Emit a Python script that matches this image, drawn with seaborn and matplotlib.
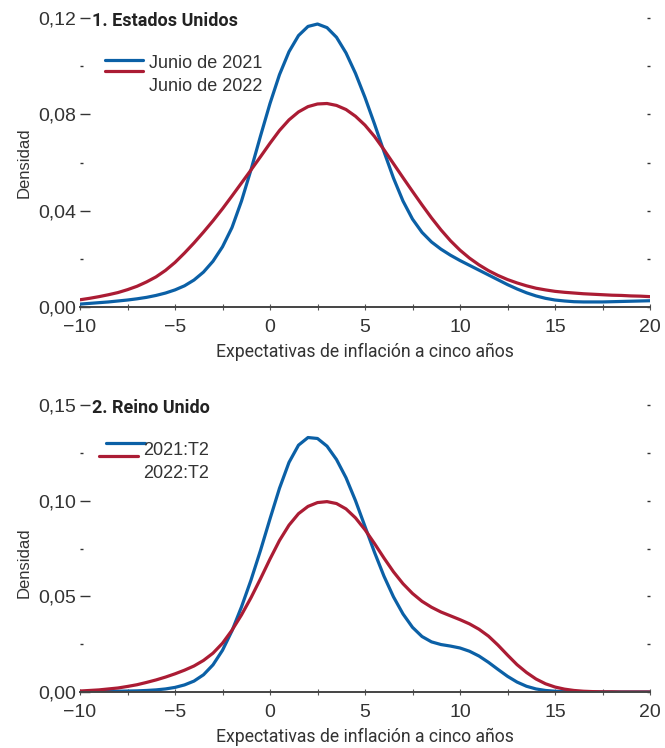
import matplotlib
matplotlib.use("Agg")
import matplotlib.pyplot as plt
import pandas as pd
import seaborn as sns
from matplotlib.ticker import MultipleLocator, FuncFormatter
from matplotlib.legend_handler import HandlerLine2D

sns.set_theme(style="white")
plt.rcParams['font.family'] = ['Liberation Sans', 'DejaVu Sans']
plt.rcParams['axes.unicode_minus'] = True

HUMANIST = ['Roboto', 'Liberation Sans', 'DejaVu Sans']

# Five-year inflation expectations (percent)
x_grid = [-10, -9.5, -9, -8.5, -8, -7.5, -7, -6.5, -6, -5.5, -5, -4.5, -4, -3.5,
          -3, -2.5, -2, -1.5, -1, -0.5, 0, 0.5, 1, 1.5, 2, 2.5, 3, 3.5, 4, 4.5,
          5, 5.5, 6, 6.5, 7, 7.5, 8, 8.5, 9, 9.5, 10, 10.5, 11, 11.5, 12, 12.5,
          13, 13.5, 14, 14.5, 15, 15.5, 16, 16.5, 17, 17.5, 18, 18.5, 19, 19.5, 20]

# 1. Estados Unidos: estimated densities
us_jun2021 = [.0012, .0015, .0018, .0021, .0025, .0029, .0034, .0040, .0048, .0058,
              .0071, .0088, .0112, .0145, .0190, .0250, .0330, .0440, .0570, .0710,
              .0845, .0965, .1060, .1127, .1165, .1175, .1160, .1120, .1055, .0970,
              .0870, .0760, .0645, .0535, .0440, .0365, .0310, .0270, .0240, .0215,
              .0193, .0173, .0153, .0133, .0113, .0093, .0075, .0059, .0046, .0036,
              .0029, .0025, .0022, .0021, .0021, .0021, .0022, .0023, .0024, .0025,
              .0026]
us_jun2022 = [.0030, .0036, .0043, .0051, .0060, .0072, .0086, .0104, .0125, .0152,
              .0185, .0224, .0266, .0311, .0358, .0408, .0461, .0515, .0569, .0624,
              .0680, .0733, .0777, .0810, .0832, .0843, .0845, .0837, .0820, .0792,
              .0755, .0708, .0653, .0595, .0537, .0480, .0424, .0370, .0320, .0275,
              .0236, .0203, .0175, .0151, .0131, .0114, .0100, .0088, .0078, .0071,
              .0065, .0061, .0058, .0055, .0053, .0051, .0049, .0048, .0046, .0045,
              .0043]

# 2. Reino Unido: estimated densities
uk_2021t2 = [.0002, .0002, .0003, .0003, .0004, .0005, .0006, .0008, .0011, .0016,
             .0024, .0037, .0057, .0090, .0142, .0218, .0320, .0445, .0585, .0740,
             .0905, .1065, .1200, .1290, .1330, .1325, .1285, .1215, .1120, .1000,
             .0865, .0730, .0605, .0497, .0408, .0338, .0290, .0262, .0248, .0240,
             .0230, .0213, .0188, .0155, .0118, .0082, .0052, .0030, .0016, .0008,
             .0004, .0002, .0001, .0000, .0000, .0000, .0000, .0000, .0000, .0000,
             .0000]
uk_2022t2 = [.0005, .0008, .0011, .0016, .0021, .0029, .0038, .0050, .0063, .0078,
             .0095, .0114, .0136, .0165, .0203, .0255, .0323, .0403, .0493, .0592,
             .0695, .0792, .0872, .0932, .0970, .0990, .0995, .0985, .0957, .0910,
             .0848, .0776, .0700, .0628, .0566, .0515, .0474, .0443, .0418, .0398,
             .0378, .0356, .0328, .0292, .0245, .0193, .0143, .0102, .0068, .0043,
             .0026, .0015, .0008, .0004, .0002, .0001, .0001, .0000, .0000, .0000,
             .0000]

panels = [
    dict(title="1. Estados Unidos", labels=["Junio de 2021", "Junio de 2022"],
         series=[us_jun2021, us_jun2022], ymax=0.12, major=0.04, minor=0.02,
         leg_anchor=(0.043, 0.872), blue_shift=(0, 1.1), red_shift=(0, 10.0),
         textpad=0.3, ylabel_y=0.5),
    dict(title="2. Reino Unido", labels=["2021:T2", "2022:T2"],
         series=[uk_2021t2, uk_2022t2], ymax=0.15, major=0.05, minor=0.025,
         leg_anchor=(0.046, 0.872), blue_shift=(0, 4.0), red_shift=(-5.0, 11.5),
         textpad=-0.13, ylabel_y=0.45),
]

BLUE = "#0b60a6"
RED = "#ab1c34"
TXT = "#333333"


class OffsetLine(HandlerLine2D):
    """Legend line drawn with a fixed offset (in points) from its default spot."""

    def __init__(self, dx=0.0, dy=0.0, **kw):
        super().__init__(**kw)
        self.dx, self.dy = dx, dy

    def create_artists(self, legend, orig_handle, xdescent, ydescent, width,
                       height, fontsize, trans):
        return super().create_artists(legend, orig_handle, xdescent - self.dx,
                                      ydescent - 2 * self.dy, width, height,
                                      fontsize, trans)


W, H = 665, 748
fig = plt.figure(figsize=(W / 100, H / 100), dpi=100)
boxes = [
    [80 / W, 1 - 307 / H, 570 / W, 289 / H],
    [80 / W, 1 - 692 / H, 570 / W, 287 / H],
]

for box, p in zip(boxes, panels):
    ax = fig.add_axes(box)
    df = pd.concat([
        pd.DataFrame({"x": x_grid, "densidad": vals, "serie": lab})
        for vals, lab in zip(p["series"], p["labels"])
    ])
    sns.lineplot(data=df, x="x", y="densidad", hue="serie",
                 palette=dict(zip(p["labels"], [BLUE, RED])),
                 linewidth=2.3, legend=False, ax=ax)

    ax.set_xlim(-10, 20)
    ax.set_ylim(0, p["ymax"])
    for side in ("top", "right", "left"):
        ax.spines[side].set_visible(False)
    ax.spines["bottom"].set_color("#444444")
    ax.spines["bottom"].set_linewidth(1.4)

    ax.xaxis.set_major_locator(MultipleLocator(5))
    ax.xaxis.set_minor_locator(MultipleLocator(2.5))
    ax.yaxis.set_major_locator(MultipleLocator(p["major"]))
    ax.yaxis.set_minor_locator(MultipleLocator(p["minor"]))
    ax.yaxis.set_major_formatter(
        FuncFormatter(lambda v, pos: f"{v:.2f}".replace(".", ",")))

    ax.tick_params(axis="x", which="both", direction="inout", length=4,
                   width=0.8, color="#555555", labelsize=14, labelcolor=TXT,
                   pad=6.5, bottom=True)
    ax.tick_params(axis="y", which="major", direction="in", length=7,
                   width=1.0, color=TXT, labelsize=14, labelcolor=TXT,
                   pad=3, left=True)
    ax.tick_params(axis="y", which="minor", direction="in", length=2.5,
                   width=1.0, color=TXT, left=True)
    ax.tick_params(axis="y", which="both", right=True, labelright=False)
    for t in ax.yaxis.get_ticklines(minor=False)[1::2]:
        t.set_markersize(2)

    ax.set_xlabel("Expectativas de inflación a cinco años", family=HUMANIST,
                  fontsize=12.7, color=TXT, labelpad=5)
    ax.set_ylabel("Densidad", fontsize=12, color=TXT)
    ax.yaxis.set_label_coords(-0.085, p["ylabel_y"])

    ax.text(0.021, 0.988, p["title"], transform=ax.transAxes, ha="left",
            va="center", family=HUMANIST, fontweight="bold", fontsize=13,
            color="#222222")

    blue_line, red_line = ax.lines[:2]
    leg = ax.legend(handles=[blue_line, red_line], labels=p["labels"],
                    loc="upper left", bbox_to_anchor=p["leg_anchor"],
                    frameon=False, borderpad=0, borderaxespad=0,
                    handlelength=2.15, handletextpad=p["textpad"],
                    labelspacing=0.36, prop=dict(size=13),
                    handler_map={blue_line: OffsetLine(*p["blue_shift"]),
                                 red_line: OffsetLine(*p["red_shift"])})
    for t in leg.get_texts():
        t.set_color(TXT)

fig.savefig("out.png", dpi=100)
